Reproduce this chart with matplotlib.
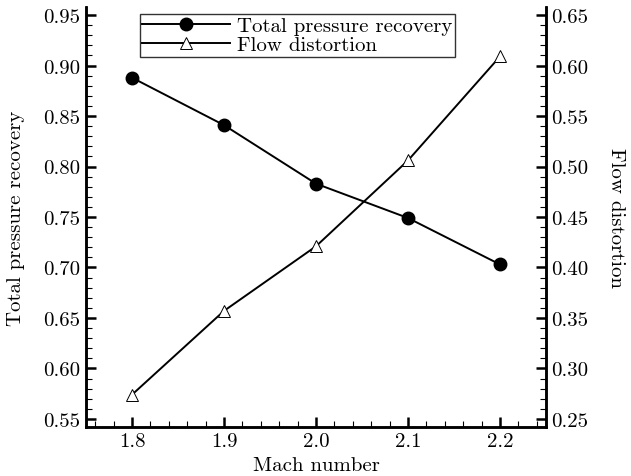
import matplotlib
matplotlib.use("Agg")
import matplotlib.pyplot as plt
from matplotlib.ticker import MultipleLocator, FormatStrFormatter

mach = [1.8, 1.9, 2.0, 2.1, 2.2]
recovery = [0.888, 0.841, 0.783, 0.749, 0.703]
distortion = [0.274, 0.357, 0.421, 0.506, 0.609]

plt.rcParams['font.family'] = ['cmr10', 'DejaVu Serif']
plt.rcParams['axes.formatter.use_mathtext'] = True
FS = 15

fig = plt.figure(figsize=(6.31, 4.77), dpi=100)
ax = fig.add_axes([86/631, 1-428/477, (546-86)/631, (428-8)/477])
ax2 = ax.twinx()

l1, = ax.plot(mach, recovery, color='black', lw=1.4, marker='o', ms=9,
              mfc='black', mec='black', label='Total pressure recovery')
l2, = ax2.plot(mach, distortion, color='black', lw=1.4, marker='^', ms=9,
               mfc='white', mec='black', mew=0.7, label='Flow distortion')

ax.set_xlim(1.75, 2.25)
ax.set_ylim(0.542, 0.958)
ax2.set_ylim(0.242, 0.658)

for a in (ax, ax2):
    a.spines['top'].set_visible(False)
    for s in a.spines.values():
        s.set_linewidth(1.8)

ax.xaxis.set_major_locator(MultipleLocator(0.1))
ax.xaxis.set_minor_locator(MultipleLocator(0.02))
ax.xaxis.set_major_formatter(FormatStrFormatter('%.1f'))
ax.yaxis.set_major_locator(MultipleLocator(0.05))
ax.yaxis.set_minor_locator(MultipleLocator(0.01))
ax.yaxis.set_major_formatter(FormatStrFormatter('%.2f'))
ax2.yaxis.set_major_locator(MultipleLocator(0.05))
ax2.yaxis.set_minor_locator(MultipleLocator(0.01))
ax2.yaxis.set_major_formatter(FormatStrFormatter('%.2f'))

ax.tick_params(axis='both', which='major', direction='in', length=7.5, width=1.8,
               labelsize=FS, top=False, right=False, pad=4)
ax.tick_params(axis='both', which='minor', direction='in', length=4, width=0.8,
               top=False, right=False)
ax2.tick_params(axis='y', which='major', direction='in', length=7.5, width=1.8,
                labelsize=FS, pad=4)
ax2.tick_params(axis='y', which='minor', direction='in', length=4, width=0.8)

ax.set_xlabel('Mach number', fontsize=FS, labelpad=4)
ax.set_ylabel('Total pressure recovery', fontsize=FS, labelpad=13)
ax2.set_ylabel('Flow distortion', fontsize=FS, rotation=270, labelpad=26)

leg = ax.legend(handles=[l1, l2], loc='upper left', bbox_to_anchor=(0.117, 0.983),
                fontsize=FS, frameon=True, fancybox=False, edgecolor='black',
                handlelength=4.2, borderpad=0.12, labelspacing=0.02,
                handletextpad=0.35, borderaxespad=0)
leg.get_frame().set_linewidth(1.0)

fig.savefig('out.png', dpi=100)
